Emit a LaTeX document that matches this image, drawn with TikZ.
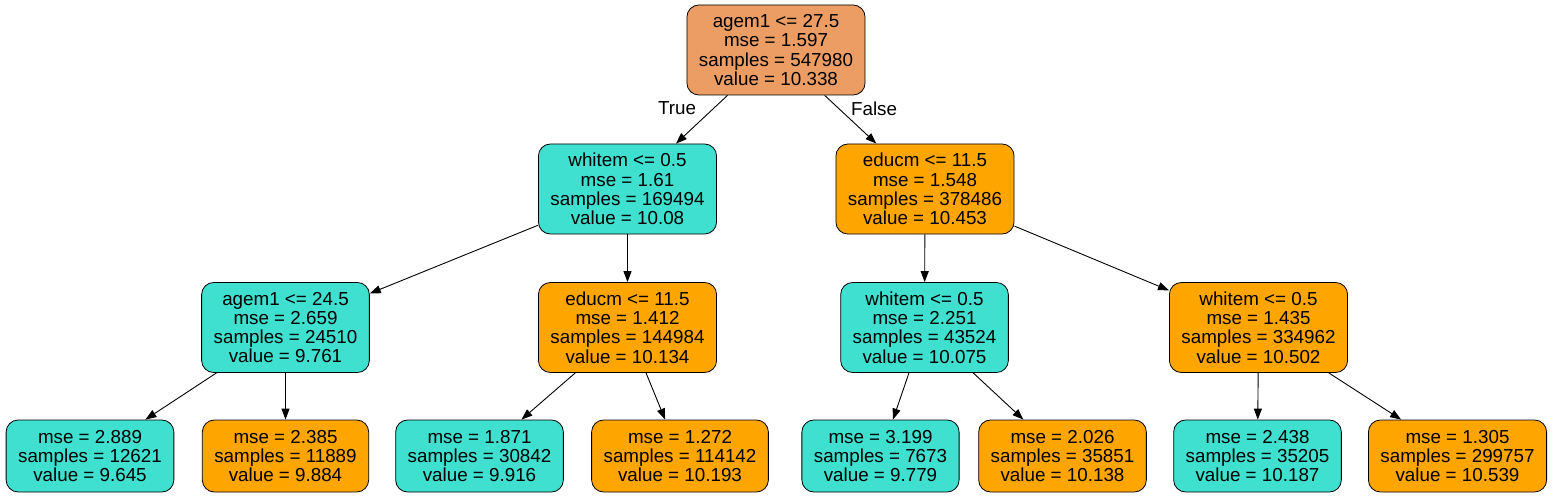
\documentclass[tikz,border=0pt]{standalone}
\usepackage{fontspec}
\setmainfont{Liberation Sans}
\usepackage{tikz}
\usetikzlibrary{arrows.meta}

\definecolor{rootc}{RGB}{235,157,99}
\definecolor{turq}{RGB}{64,224,208}
\definecolor{orng}{RGB}{255,165,0}

\begin{document}
\begin{tikzpicture}[x=1pt,y=-1pt,
        box/.style={draw,line width=0.8pt,rounded corners=12pt,align=center,inner xsep=12pt,minimum height=90pt,
            font=\fontsize{18.8}{19.3}\selectfont},
        leaf/.style={box,minimum height=72pt},
        arr/.style={-{Triangle[length=11pt,width=8pt]},line width=0.9pt},
        elab/.style={inner sep=0pt,font=\fontsize{18.8}{19.3}\selectfont}]
        \useasboundingbox (0,0) rectangle (1555,497);

        \node[box,fill=rootc] (a) at (776,50) {agem1 <= 27.5\\mse = 1.597\\samples = 547980\\value = 10.338};

        \node[box,fill=turq] (b) at (627.5,189) {whitem <= 0.5\\mse = 1.61\\samples = 169494\\value = 10.08};
        \node[box,fill=orng] (c) at (925,189) {educm <= 11.5\\mse = 1.548\\samples = 378486\\value = 10.453};

        \node[box,fill=turq] (d) at (285.5,327.5) {agem1 <= 24.5\\mse = 2.659\\samples = 24510\\value = 9.761};
        \node[box,fill=orng] (e) at (627.5,327.5) {educm <= 11.5\\mse = 1.412\\samples = 144984\\value = 10.134};
        \node[box,fill=turq] (f) at (924.5,327.5) {whitem <= 0.5\\mse = 2.251\\samples = 43524\\value = 10.075};
        \node[box,fill=orng] (g) at (1258.5,327.5) {whitem <= 0.5\\mse = 1.435\\samples = 334962\\value = 10.502};

        \node[leaf,fill=turq] (h) at (90,456) {mse = 2.889\\samples = 12621\\value = 9.645};
        \node[leaf,fill=orng] (i) at (285.5,456) {mse = 2.385\\samples = 11889\\value = 9.884};
        \node[leaf,fill=turq] (j) at (479.5,456) {mse = 1.871\\samples = 30842\\value = 9.916};
        \node[leaf,fill=orng] (k) at (680,456) {mse = 1.272\\samples = 114142\\value = 10.193};
        \node[leaf,fill=turq] (l) at (880.5,456) {mse = 3.199\\samples = 7673\\value = 9.779};
        \node[leaf,fill=orng] (m) at (1062.5,456) {mse = 2.026\\samples = 35851\\value = 10.138};
        \node[leaf,fill=turq] (n) at (1257.5,456) {mse = 2.438\\samples = 35205\\value = 10.187};
        \node[leaf,fill=orng] (o) at (1457.5,456) {mse = 1.305\\samples = 299757\\value = 10.539};

        \draw[arr] (a) -- node[elab,pos=0.27,left=17pt] {True} (b);
        \draw[arr] (a) -- node[elab,pos=0.27,right=12pt] {False} (c);
        \draw[arr] (b) -- (d);
        \draw[arr] (b) -- (e);
        \draw[arr] (c) -- (f);
        \draw[arr] (c) -- (g);
        \draw[arr] (d) -- (h);
        \draw[arr] (d) -- (i);
        \draw[arr] (e) -- (j);
        \draw[arr] (e) -- (k);
        \draw[arr] (f) -- (l);
        \draw[arr] (f) -- (m);
        \draw[arr] (g) -- (n);
        \draw[arr] (g) -- (o);
    \end{tikzpicture}
\end{document}
